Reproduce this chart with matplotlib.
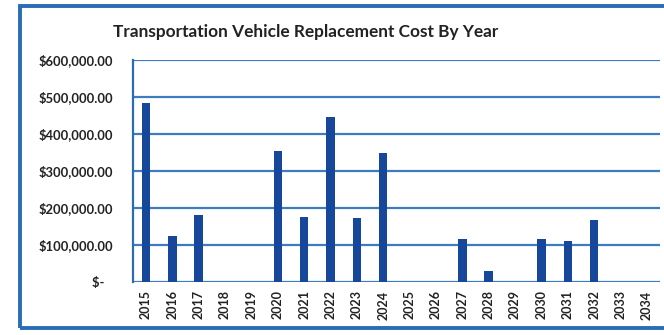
import matplotlib.pyplot as plt
from matplotlib.patches import Rectangle

# replacement cost per year (USD)
years = [str(y) for y in range(2015, 2035)]
costs = [485000, 125000, 180000, 0, 0, 355000, 175000, 445000, 172000, 350000,
         0, 0, 115000, 30000, 0, 115000, 112000, 168000, 0, 0]
y_ticks = [0, 100000, 200000, 300000, 400000, 500000, 600000]

bar_color = '#17479a'
grid_color = '#3d7cc0'
frame_color = '#2a6cb5'

plt.rcParams['font.family'] = ['Lato', 'DejaVu Sans']

fig = plt.figure(figsize=(6.64, 3.35), dpi=100)
# outer chart border, right edge runs off the figure
fig.patches.append(Rectangle((0.03, 0.021), 1.2, 0.962, transform=fig.transFigure,
                             fill=False, edgecolor=frame_color, linewidth=2.8))

ax = fig.add_axes([0.2, 0.158, 0.794, 0.663])
x = range(len(years))
ax.bar(x, costs, width=0.32, color=bar_color, zorder=3)

ax.set_xlim(-0.5, len(years) - 0.5)
ax.set_ylim(0, 600000)
ax.set_yticks(y_ticks)
ax.set_yticklabels(['$-   ' if v == 0 else '${:,.2f}'.format(v) for v in y_ticks],
                   fontsize=9.4, fontweight='bold', color='#222222')
ax.set_xticks(list(x))
ax.set_xticklabels(years, rotation=90, fontsize=9, fontweight='bold', color='#222222')
ax.tick_params(axis='y', length=0, pad=14)
ax.tick_params(axis='x', length=0, pad=6)

ax.grid(axis='y', color=grid_color, linewidth=1.6, zorder=0)
for side in ['top', 'right', 'bottom']:
    ax.spines[side].set_visible(False)
ax.spines['left'].set_color(frame_color)
ax.spines['left'].set_linewidth(1.6)

fig.text(0.46, 0.905, 'Transportation Vehicle Replacement Cost By Year',
         ha='center', va='center', fontsize=12.4, fontweight='bold', color='#222222')

fig.savefig('out.png', dpi=100)
